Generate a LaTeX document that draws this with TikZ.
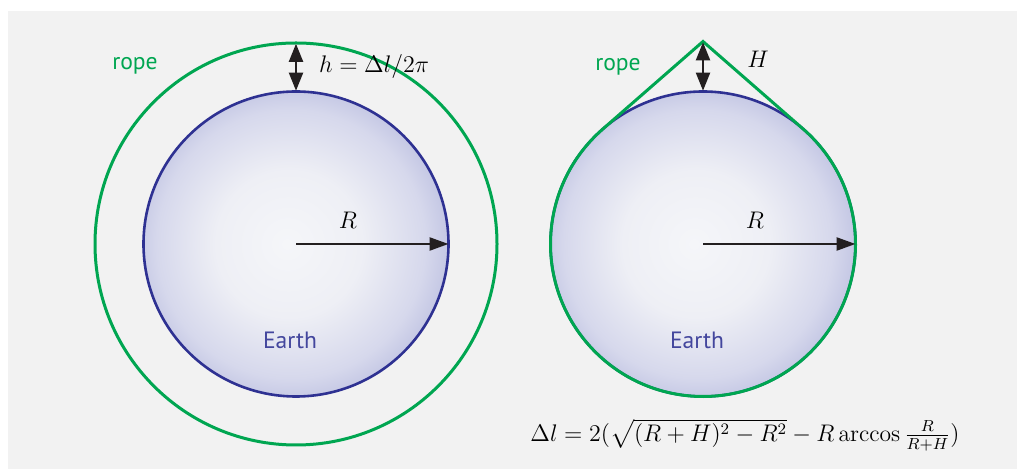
\documentclass[tikz,border=0pt]{standalone}
\usepackage{amsmath}
\usepackage{fontspec}
\setsansfont{PT Sans}
\usetikzlibrary{arrows.meta,calc}

\definecolor{bggray}{RGB}{242,242,242}
\definecolor{ropegreen}{RGB}{0,166,81}
\definecolor{earthblue}{RGB}{46,49,146}
\definecolor{earthcore}{RGB}{245,246,249}
\definecolor{earthlight}{RGB}{238,239,245}
\definecolor{earthpale}{RGB}{214,216,236}
\definecolor{earthmid}{RGB}{178,182,220}
\definecolor{earthedge}{RGB}{132,137,197}
\definecolor{arrowblack}{RGB}{35,31,32}

\pgfdeclareradialshading{earthshade}{\pgfpoint{-1.5bp}{0bp}}{%
  color(0bp)=(earthcore); color(12bp)=(earthlight); color(22bp)=(earthpale);
  color(29.5bp)=(earthmid); color(35.5bp)=(earthedge); color(50bp)=(earthedge)}

\begin{document}
\begin{tikzpicture}[x=0.5pt, y=0.5pt,
	every node/.style={font=\sffamily\fontsize{11.8}{13}\selectfont},
	mathlabel/.style={font=\fontsize{12.5}{14}\selectfont},
	earth/.style={circle, draw=earthblue, line width=1.3pt, shade, shading=earthshade, minimum size=152.5pt, inner sep=0pt, outer sep=0pt},
	ropering/.style={circle, draw=ropegreen, line width=1.5pt, minimum size=201pt, inner sep=0pt, outer sep=0pt},
	rope/.style={draw=ropegreen, line width=1.5pt, line join=miter},
	radius arrow/.style={-{Triangle[length=9.5pt, width=6.5pt]}, draw=arrowblack, line width=1.2pt},
	gap arrow/.style={{Triangle[length=9pt, width=7pt]}-{Triangle[length=9pt, width=7pt]}, draw=arrowblack, line width=1pt, shorten <=0.4pt, shorten >=0.4pt},
	ropelabel/.style={text=ropegreen},
	earthlabel/.style={text=earthblue!90!white}]
	\useasboundingbox (0,0) rectangle (1017,470);
	\fill[bggray] (8,1) rectangle (1017,459);

	% left: rope lifted all round
	\node[ropering] (ropeL) at (296,226) {};
	\node[earth] (earthL) at (296,226) {};
	\draw[radius arrow] (earthL.center) -- (earthL.east) node[pos=0.34, above=4pt, mathlabel] {$R$};
	\draw[gap arrow] (ropeL.north) -- (earthL.north);
	\node[anchor=west, mathlabel] (hlabel) at (312,403) {$h=\Delta l/2\pi$};
	\node[ropelabel] (ropeLtext) at (135,404) {rope};
	\node[earthlabel] (earthLtext) at (290,130) {Earth};

	% right: rope pulled up at one point
	\node[earth] (earthR) at (703,226) {};
	\coordinate (apex) at ($(earthR.north)+(0,50)$);
	\draw[rope] (apex) -- (earthR.131) arc[start angle=131, end angle=409, radius=76.25pt] -- cycle;
	\draw[radius arrow] (earthR.center) -- (earthR.east) node[pos=0.34, above=4pt, mathlabel] {$R$};
	\draw[gap arrow] (apex) -- (earthR.north);
	\node[mathlabel] (Hlabel) at (758,411) {$H$};
	\node[ropelabel] (ropeRtext) at (618,403) {rope};
	\node[earthlabel] (earthRtext) at (697,130) {Earth};
	\node[font=\fontsize{11.8}{14}\selectfont] (formula) at (745,35) {$\Delta l = 2(\sqrt{(R+H)^2-R^2}-R\arccos\frac{R}{R+H})$};
\end{tikzpicture}
\end{document}
